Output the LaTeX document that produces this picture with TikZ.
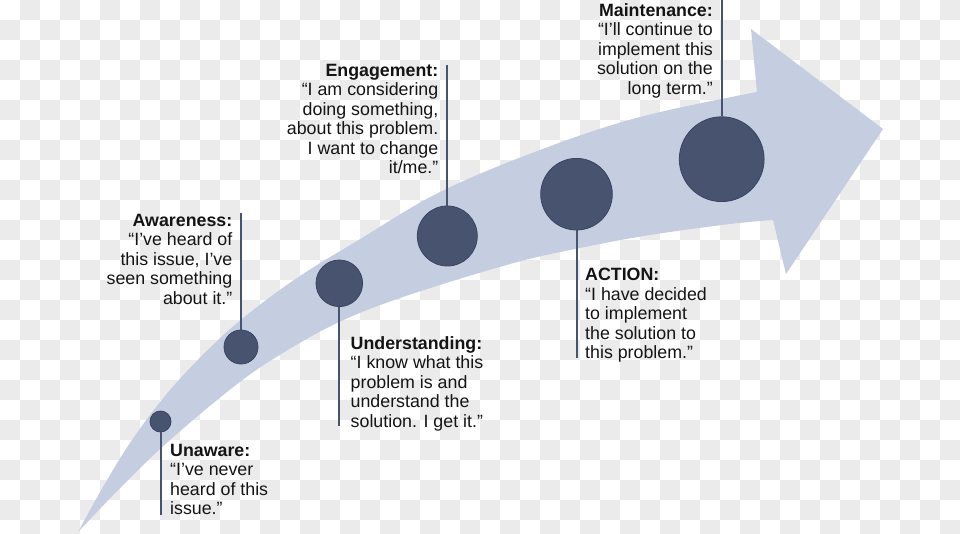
\documentclass[tikz,border=0pt]{standalone}
\usepackage{fontspec}
\setmainfont{Liberation Sans}
\definecolor{bandc}{HTML}{C5CDE1}
\definecolor{dotc}{HTML}{48536F}
\definecolor{dotb}{HTML}{3A4460}
\definecolor{chk}{HTML}{EBEBEB}
\definecolor{txt}{HTML}{141414}
\begin{document}
\begin{tikzpicture}[x=1pt,y=-1pt,
 dot/.style={circle, fill=dotc, draw=dotb, line width=0.8pt, inner sep=0pt},
 stem/.style={draw=dotc, line width=2pt},
 lbl/.style={inner sep=0pt, text=txt, font=\fontsize{17.8}{19.5}\selectfont},
]
\useasboundingbox (0,0) rectangle (960,534);
\begin{scope}
\clip (0,0) rectangle (960,534);
\fill[white] (0,0) rectangle (960,534);
\foreach \j in {0,...,26}{
  \pgfmathtruncatemacro\s{mod(\j+1,2)}
  \pgfmathtruncatemacro\t{\s+2}
  \foreach \i in {\s,\t,...,47}{
    \fill[chk] (\i*20,\j*20) rectangle ++(20,20);
  }
}
% arrow band
\fill[bandc] plot[smooth, tension=0.6] coordinates {(78,532) (103,487) (132,440) (170,390) (217,341) (257,307) (303,274) (357,241) (440,192) (540,150) (640,117) (757,92)}
  -- (751,29) -- (883,129) -- (786,274)
  -- plot[smooth, tension=0.6] coordinates {(773,220) (730,224) (650,235) (580,248) (510,264) (400,298) (333,325) (270,361) (227,392) (170,440) (125,483) (78,532)}
  -- cycle;
\end{scope}
% circles
\node[dot, minimum size=21pt] (c1) at (160.5,421.5) {};
\node[dot, minimum size=34pt] (c2) at (241,347) {};
\node[dot, minimum size=46.6pt] (c3) at (339.3,283.3) {};
\node[dot, minimum size=60pt] (c4) at (447.3,236) {};
\node[dot, minimum size=71.6pt] (c5) at (576.5,194.2) {};
\node[dot, minimum size=84.8pt] (c6) at (721.7,159.2) {};
% stem ends
\coordinate (e1) at (160.5,515);
\coordinate (e2) at (241,213);
\coordinate (e3) at (339.3,425.5);
\coordinate (e4) at (447.3,65);
\coordinate (e5) at (576.5,358);
\coordinate (e6) at (721.7,0);
\draw[stem] (c1) -- (e1);
\draw[stem] (c2) -- (e2);
\draw[stem] (c3) -- (e3);
\draw[stem] (c4) -- (e4);
\draw[stem] (c5) -- (e5);
\draw[stem] (c6) -- (e6);
% labels
\node[lbl, align=left, anchor=north west] (t1) at (170,444) {\textbf{Unaware:}\\“I’ve never\\heard of this\\issue.”};
\node[lbl, align=right, anchor=north east] (t2) at (232.5,214) {\textbf{Awareness:}\\“I’ve heard of\\this issue, I’ve\\seen something\\about it.”};
\node[lbl, align=left, anchor=north west] (t3) at (350.5,336) {\textbf{Understanding:}\\“I know what this\\problem is and\\understand the\\solution. I get it.”};
\node[lbl, align=right, anchor=north east] (t4) at (438.5,64) {\textbf{Engagement:}\\“I am considering\\doing something,\\about this problem.\\I want to change\\it/me.”};
\node[lbl, align=left, anchor=north west] (t5) at (585,268.3) {\textbf{ACTION:}\\“I have decided\\to implement\\the solution to\\this problem.”};
\node[lbl, align=right, anchor=north east] (t6) at (713,3.3) {\textbf{Maintenance:}\\“I’ll continue to\\implement this\\solution on the\\long term.”};
\end{tikzpicture}
\end{document}
